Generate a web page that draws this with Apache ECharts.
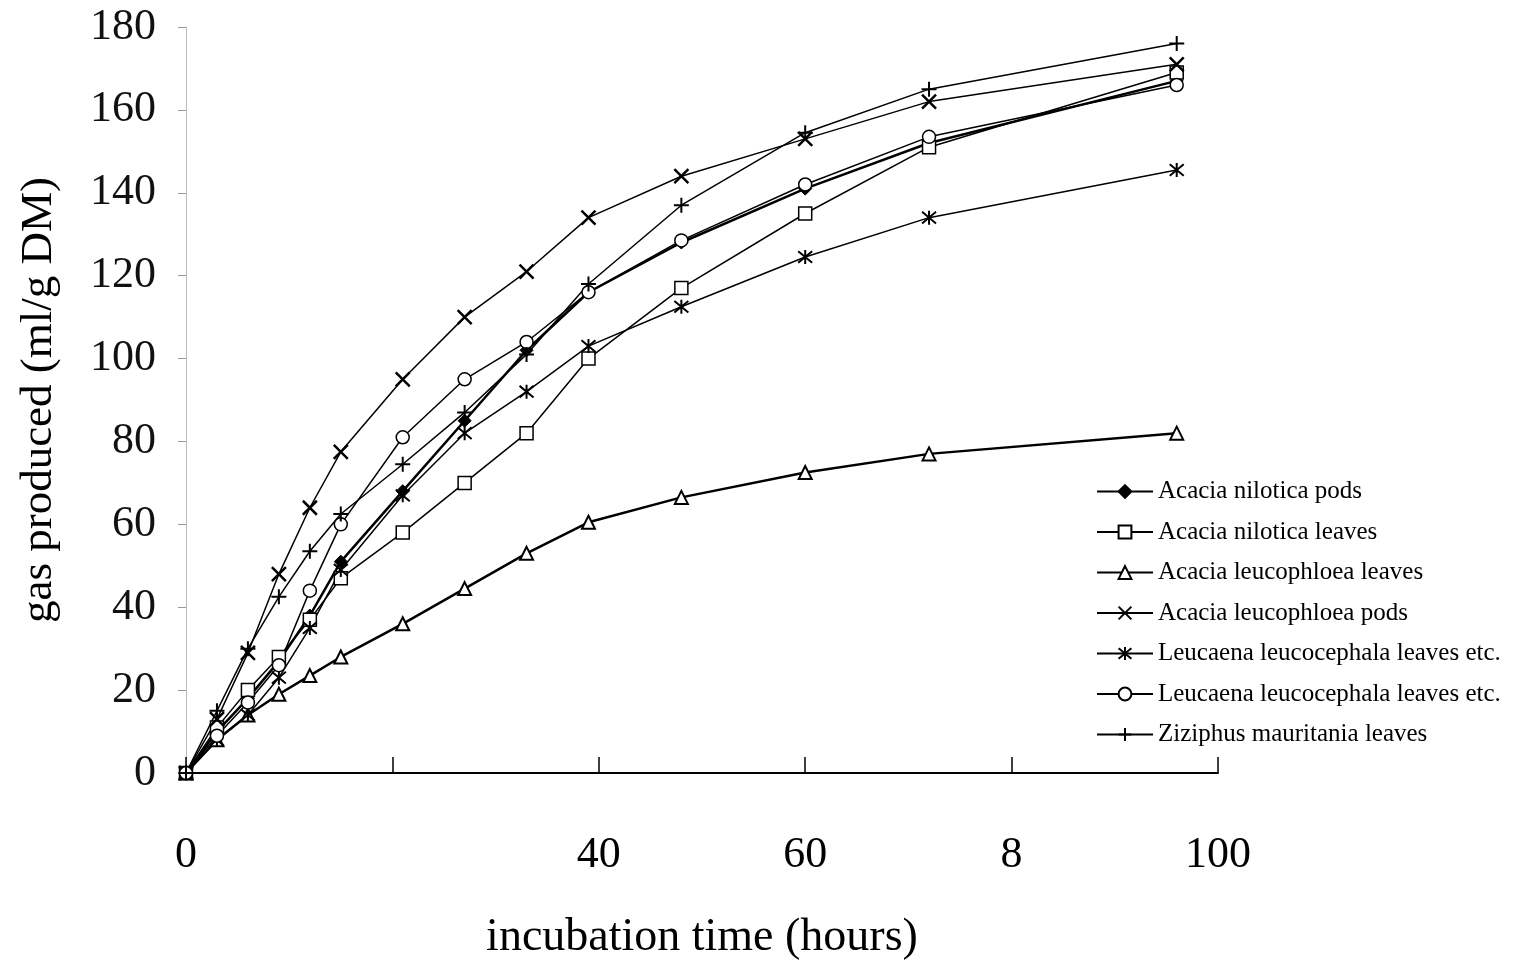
<!DOCTYPE html>
<html>
<head>
<meta charset="utf-8">
<title>gas production</title>
<script src="https://cdn.jsdelivr.net/npm/echarts@6/dist/echarts.min.js"></script>
<style>
  html, body { margin: 0; padding: 0; background: #fff; }
  #chart { width: 1523px; height: 966px; }
</style>
</head>
<body>
<div id="chart"></div>
<script>
// incubation times (hours)
const hours = [0, 3, 6, 9, 12, 15, 21, 27, 33, 39, 48, 60, 72, 96]

// gas produced (ml/g DM)
const niloticaPods = [0, 10, 18, 27, 38, 51, 68, 85, 102, 116, 128, 141, 152, 167]
const niloticaLeaves = [0, 11, 20, 28, 37, 47, 58, 70, 82, 100, 117, 135, 151, 169]
const leucophloeaLeaves = [0, 8, 14, 19, 23.5, 28, 36, 44.5, 53, 60.5, 66.5, 72.5, 77, 82]
const leucophloeaPods = [0, 13, 29, 48, 64, 77.5, 95, 110, 121, 134, 144, 153, 162, 171]
const leucaenaA = [0, 8, 14, 23, 35, 49, 67, 82, 92, 103, 112.5, 124.5, 134, 145.5]
const leucaenaB = [0, 9, 17, 26, 44, 60, 81, 95, 104, 116, 128.5, 142, 153.5, 166]
const ziziphus = [0, 15, 30, 42.5, 53.5, 62.5, 74.5, 87, 101, 118, 137, 154.5, 165, 176]

// x tick labels as printed (the scan shows "8" at 80 and nothing at 20)
const xTicks = [0, 20, 40, 60, 80, 100]
const xTickLabels = ['0', '', '40', '60', '8', '100']

const serif = '"Liberation Serif", "DejaVu Serif", serif'

const pairs = ys => hours.map((h, i) => [h, ys[i]])

const mk = (name, ys, symbol, size, fill, width, border) => ({
  name,
  type: 'line',
  data: pairs(ys),
  symbol,
  symbolSize: size,
  lineStyle: { color: '#000', width },
  itemStyle: { color: fill, borderColor: '#000', borderWidth: border },
  emphasis: { disabled: true },
  animation: false
})

const chart = echarts.init(document.getElementById('chart'))

chart.setOption({
  backgroundColor: '#fff',
  grid: { left: 186, right: 305, top: 27, bottom: 193, outerBoundsMode: 'none' },
  legend: {
    orient: 'vertical',
    left: 1091,
    top: 474,
    itemWidth: 56,
    itemHeight: 16,
    itemGap: 15.5,
    textStyle: { fontFamily: serif, fontSize: 25, color: '#000', lineHeight: 24 },
    inactiveColor: '#000'
  },
  xAxis: {
    type: 'value',
    min: 0,
    max: 100,
    interval: 20,
    name: 'incubation time (hours)',
    nameLocation: 'middle',
    nameGap: 142,
    nameTextStyle: { fontFamily: serif, fontSize: 46, color: '#000' },
    axisLine: { show: true, lineStyle: { color: '#000', width: 2 } },
    axisTick: { show: true, inside: true, length: 16, lineStyle: { color: '#000', width: 1.5 } },
    axisLabel: {
      margin: 60,
      fontFamily: serif,
      fontSize: 44,
      color: '#000',
      formatter: v => xTickLabels[xTicks.indexOf(v)] ?? ''
    },
    splitLine: { show: false }
  },
  yAxis: {
    type: 'value',
    min: 0,
    max: 180,
    interval: 20,
    name: 'gas produced (ml/g DM)',
    nameLocation: 'middle',
    nameGap: 124,
    nameTextStyle: { fontFamily: serif, fontSize: 45, color: '#000' },
    axisLine: { show: true, lineStyle: { color: '#bbb', width: 1 } },
    axisTick: { show: true, length: 8, lineStyle: { color: '#999', width: 1 } },
    axisLabel: { margin: 30, fontFamily: serif, fontSize: 44, color: '#111' },
    splitLine: { show: false }
  },
  series: [
    mk('Acacia nilotica pods', niloticaPods, 'diamond', 13, '#000', 2.5, 1),
    mk('Acacia nilotica leaves', niloticaLeaves, 'rect', 13, '#fff', 1.5, 1.5),
    mk('Acacia leucophloea leaves', leucophloeaLeaves, 'triangle', 13, '#fff', 2.5, 2),
    mk('Acacia leucophloea pods', leucophloeaPods, 'path://M0,0L10,10M10,0L0,10', 14, '#000', 1.5, 2.5),
    mk('Leucaena leucocephala leaves etc.', leucaenaA, 'path://M0,0L10,10M10,0L0,10M5,-1L5,11', 14, '#000', 1.5, 2),
    mk('Leucaena leucocephala leaves etc. ', leucaenaB, 'circle', 13, '#fff', 1.5, 1.5),
    mk('Ziziphus mauritania leaves', ziziphus, 'path://M5,0L5,10M0,5L10,5', 15, '#000', 1.5, 2)
  ]
})
</script>
</body>
</html>
